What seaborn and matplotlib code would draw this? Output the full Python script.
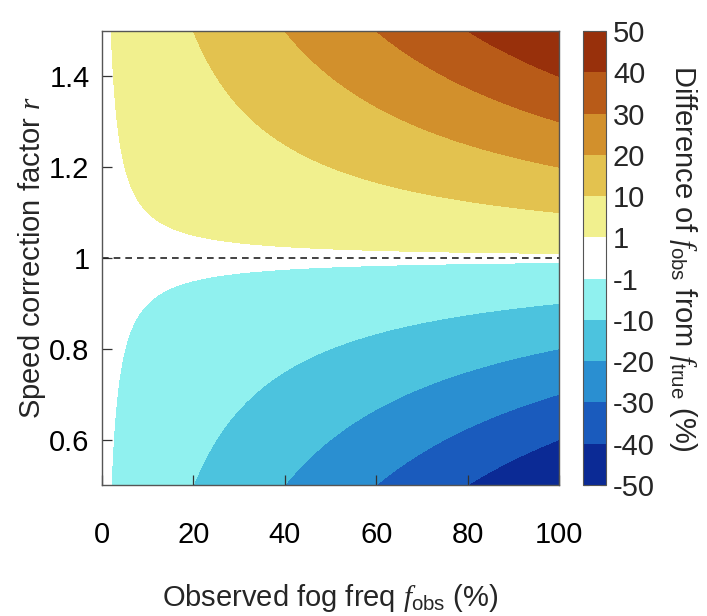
import numpy as np
import matplotlib
matplotlib.use("Agg")
import matplotlib.pyplot as plt
import seaborn as sns

sns.set_style("ticks")
plt.rcParams['font.family'] = ['Liberation Sans', 'DejaVu Sans']
plt.rcParams['mathtext.fontset'] = 'custom'
plt.rcParams['mathtext.rm'] = 'Liberation Sans'
plt.rcParams['mathtext.it'] = 'Liberation Serif:italic'

# grid of observed fog frequency (%) and speed correction factor
f_obs = np.linspace(0, 100, 501)
r_vals = np.linspace(0.5, 1.5, 501)

# contour levels and colours
levels = [-50, -40, -30, -20, -10, -1, 1, 10, 20, 30, 40, 50]
band_colors = ['#0b2a95', '#1a5bbd', '#2a8fd1', '#4cc3de', '#90f1ef', '#ffffff',
               '#f1f08e', '#e3c24f', '#d2902c', '#b85b18', '#98300b']
x_ticks = [0, 20, 40, 60, 80, 100]
y_ticks = [0.6, 0.8, 1.0, 1.2, 1.4]
y_ticklabels = ['0.6', '0.8', '1', '1.2', '1.4']

# difference of f_obs from f_true (percentage points)
F, R = np.meshgrid(f_obs, r_vals)
diff = F * (R - 1)

fig = plt.figure(figsize=(7.07, 6.16), dpi=100)
ax = fig.add_axes([0.1443, 0.2127, 0.6464, 0.737])
cax = fig.add_axes([0.8246, 0.2127, 0.0325, 0.737])

pal = sns.color_palette(band_colors)
cs = ax.contourf(F, R, diff, levels=levels, colors=pal, zorder=0)
ax.axhline(1, color='#222222', ls='--', lw=1.2, dashes=(4, 3))

ax.set_xlim(0, 100)
ax.set_ylim(0.5, 1.5)
ax.set_xticks(x_ticks)
ax.set_yticks(y_ticks)
ax.set_yticklabels(y_ticklabels)
ax.tick_params(direction='in', length=7, width=0.9, labelsize=21, color='#333333',
               labelcolor='black')
ax.tick_params(axis='x', pad=26)
ax.tick_params(axis='y', pad=9)
for s in ax.spines.values():
    s.set_color('#555555')
    s.set_linewidth(1.0)
ax.set_xlabel(r'Observed fog freq $f_{\mathrm{obs}}$ (%)', fontsize=21, labelpad=24)
ax.set_ylabel(r'Speed correction factor $r$', fontsize=21, labelpad=1)

cb = fig.colorbar(cs, cax=cax, ticks=levels, spacing='uniform')
cb.ax.set_yticklabels([str(v) for v in levels])
cb.ax.tick_params(direction='in', length=4, width=0.8, labelsize=21, pad=5,
                  left=True, right=True, color='#333333')
cb.outline.set_edgecolor('#555555')
cb.set_label(r'Difference of $f_{\mathrm{obs}}$ from $f_{\mathrm{true}}$ (%)',
             fontsize=21, rotation=270, labelpad=32)

fig.savefig('out.png', dpi=100)
